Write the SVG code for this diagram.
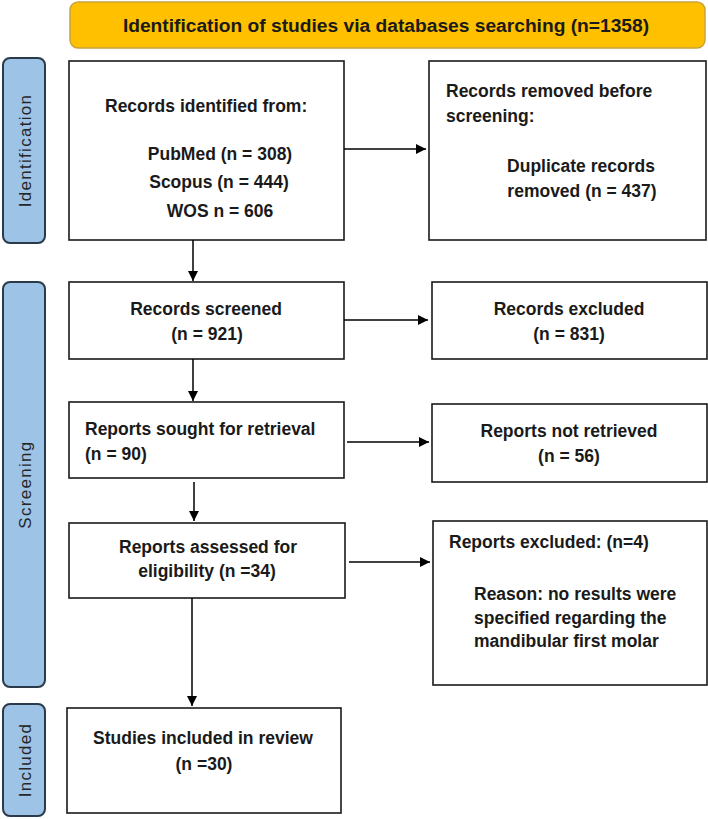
<svg xmlns="http://www.w3.org/2000/svg" width="708" height="819" viewBox="0 0 708 819">
<defs>
<marker id="ah" markerWidth="10" markerHeight="10" refX="10" refY="5" orient="auto" markerUnits="userSpaceOnUse">
<path d="M0,0 L10,5 L0,10 Z" fill="#000"/>
</marker>
<style>
.box{fill:#fff;stroke:#1a1a1a;stroke-width:1.6}
.side{fill:#9dc3e6;stroke:#2b3a4a;stroke-width:2}
.st{font-family:"Liberation Sans",Arial,sans-serif;font-size:17px;fill:#262626;letter-spacing:1.3px}
.t{font-family:"Liberation Sans",Arial,sans-serif;font-size:17.5px;font-weight:bold;fill:#1a1a1a}
.c{text-anchor:middle}
.conn{stroke:#000;stroke-width:1.5;fill:none;marker-end:url(#ah)}
</style>
</defs>
<rect width="708" height="819" fill="#fff"/>
<g id="banner">
<rect x="70" y="2" width="635" height="46" rx="8" fill="#ffc000" stroke="#c9a23a" stroke-width="1.5"/>
<text class="t c" x="386" y="32" style="font-size:19.2px">Identification of studies via databases searching (n=1358)</text>
</g>
<g id="side-identification">
<rect class="side" x="3" y="58" width="42" height="185" rx="7"/>
<text class="st c" transform="translate(31,150.5) rotate(-90)">Identification</text>
</g>
<g id="side-screening">
<rect class="side" x="3" y="282" width="42" height="405" rx="7"/>
<text class="st c" transform="translate(31,484.5) rotate(-90)">Screening</text>
</g>
<g id="side-included">
<rect class="side" x="3" y="704" width="42" height="112" rx="7"/>
<text class="st c" transform="translate(31,760) rotate(-90)">Included</text>
</g>
<g id="n1">
<rect class="box" x="69" y="61" width="275" height="179"/>
<text class="t" x="105" y="112">Records identified from:</text>
<text class="t c" x="220" y="160">PubMed (n = 308)</text>
<text class="t c" x="219" y="188">Scopus (n = 444)</text>
<text class="t c" x="220" y="217">WOS n = 606</text>
</g>
<g id="n2">
<rect class="box" x="429" y="61" width="277" height="179"/>
<text class="t" x="446" y="97">Records removed before</text>
<text class="t" x="446" y="122">screening:</text>
<text class="t c" x="581" y="172">Duplicate records</text>
<text class="t c" x="582" y="197">removed (n = 437)</text>
</g>
<g id="n3">
<rect class="box" x="69" y="282" width="275" height="77"/>
<text class="t c" x="206" y="315">Records screened</text>
<text class="t c" x="207" y="340">(n = 921)</text>
</g>
<g id="n4">
<rect class="box" x="432" y="282" width="275" height="77"/>
<text class="t c" x="569" y="315">Records excluded</text>
<text class="t c" x="569" y="340">(n = 831)</text>
</g>
<g id="n5">
<rect class="box" x="69" y="402" width="275" height="76"/>
<text class="t" x="85" y="435">Reports sought for retrieval</text>
<text class="t" x="85" y="460">(n = 90)</text>
</g>
<g id="n6">
<rect class="box" x="432" y="404" width="275" height="78"/>
<text class="t c" x="569" y="437">Reports not retrieved</text>
<text class="t c" x="569" y="462">(n = 56)</text>
</g>
<g id="n7">
<rect class="box" x="69" y="523" width="276" height="75"/>
<text class="t c" x="208" y="553">Reports assessed for</text>
<text class="t c" x="207" y="577">eligibility (n =34)</text>
</g>
<g id="n8">
<rect class="box" x="433" y="521" width="274" height="164"/>
<text class="t" x="449" y="548">Reports excluded: (n=4)</text>
<text class="t" x="474" y="600">Reason: no results were</text>
<text class="t" x="474" y="624">specified regarding the</text>
<text class="t" x="474" y="647">mandibular first molar</text>
</g>
<g id="n9">
<rect class="box" x="67" y="708" width="274" height="105"/>
<text class="t c" x="203" y="744">Studies included in review</text>
<text class="t c" x="204" y="770">(n =30)</text>
</g>
<g id="connectors">
<line class="conn" x1="344" y1="149" x2="426" y2="149"/>
<line class="conn" x1="193" y1="240" x2="193" y2="281"/>
<line class="conn" x1="344" y1="320" x2="428" y2="320"/>
<line class="conn" x1="193" y1="359" x2="193" y2="401"/>
<line class="conn" x1="347" y1="442" x2="429" y2="442"/>
<line class="conn" x1="194" y1="482" x2="194" y2="521"/>
<line class="conn" x1="349" y1="562" x2="430" y2="562"/>
<line class="conn" x1="192" y1="598" x2="192" y2="706"/>
</g>
</svg>
